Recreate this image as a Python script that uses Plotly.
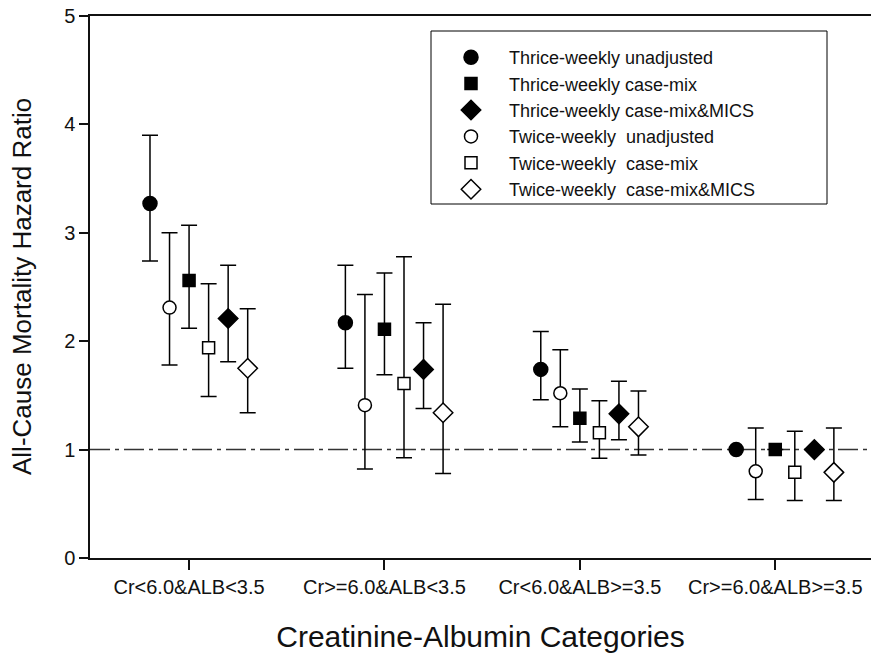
import plotly.graph_objects as go

# ---------------- data ----------------
categories = ["Cr<6.0&ALB<3.5", "Cr>=6.0&ALB<3.5", "Cr<6.0&ALB>=3.5", "Cr>=6.0&ALB>=3.5"]

series_names = [
    "Thrice-weekly unadjusted",
    "Thrice-weekly case-mix",
    "Thrice-weekly case-mix&MICS",
    "Twice-weekly  unadjusted",
    "Twice-weekly  case-mix",
    "Twice-weekly  case-mix&MICS",
]

thrice_unadj_hr = [3.27, 2.17, 1.74, 1.00]
thrice_unadj_hi = [3.90, 2.70, 2.09, None]
thrice_unadj_lo = [2.74, 1.75, 1.46, None]

thrice_cm_hr = [2.56, 2.11, 1.29, 1.00]
thrice_cm_hi = [3.07, 2.63, 1.56, None]
thrice_cm_lo = [2.12, 1.69, 1.07, None]

thrice_mics_hr = [2.21, 1.74, 1.33, 1.00]
thrice_mics_hi = [2.70, 2.17, 1.63, None]
thrice_mics_lo = [1.81, 1.38, 1.09, None]

twice_unadj_hr = [2.31, 1.41, 1.52, 0.80]
twice_unadj_hi = [3.00, 2.43, 1.92, 1.20]
twice_unadj_lo = [1.78, 0.82, 1.21, 0.54]

twice_cm_hr = [1.94, 1.61, 1.155, 0.79]
twice_cm_hi = [2.53, 2.78, 1.45, 1.17]
twice_cm_lo = [1.49, 0.925, 0.92, 0.53]

twice_mics_hr = [1.75, 1.34, 1.21, 0.79]
twice_mics_hi = [2.30, 2.34, 1.54, 1.20]
twice_mics_lo = [1.34, 0.78, 0.95, 0.53]

y_ticks = [0, 1, 2, 3, 4, 5]
reference_hr = 1.0

# ---------------- styling ----------------
series = [
    (thrice_unadj_hr, thrice_unadj_hi, thrice_unadj_lo),
    (thrice_cm_hr, thrice_cm_hi, thrice_cm_lo),
    (thrice_mics_hr, thrice_mics_hi, thrice_mics_lo),
    (twice_unadj_hr, twice_unadj_hi, twice_unadj_lo),
    (twice_cm_hr, twice_cm_hi, twice_cm_lo),
    (twice_mics_hr, twice_mics_hi, twice_mics_lo),
]
offsets = [-0.2, 0.0, 0.2, -0.1, 0.1, 0.3]
symbols = ["circle", "square", "diamond", "circle", "square", "diamond"]
fills = ["black", "black", "black", "white", "white", "white"]
sizes = [14, 12, 15, 13, 12, 15]

FONT = "Liberation Sans, Arial, sans-serif"
INK = "#111111"

fig = go.Figure()
for name, (hr, hi, lo), off, sym, fc, sz in zip(series_names, series, offsets, symbols, fills, sizes):
    xs = [i + 1 + off for i in range(len(hr))]
    plus = [(h - v) if h is not None else None for h, v in zip(hi, hr)]
    minus = [(v - l) if l is not None else None for l, v in zip(lo, hr)]
    fig.add_trace(go.Scatter(
        x=xs, y=hr, mode="markers", name=name,
        marker=dict(symbol=sym, size=sz, color=fc, line=dict(color="black", width=1.5)),
        error_y=dict(type="data", symmetric=False, array=plus, arrayminus=minus,
                     color="black", thickness=1.5, width=8),
    ))

fig.add_hline(y=reference_hr, line=dict(color="#333333", width=1.5, dash="20px,5px,4px,5px"),
              layer="below")

W, H = 871, 654
L, R, T, B = 90, 0, 16, 96
pw, ph = W - L - R, H - T - B

def px_to_paper_x(px):
    return (px - L) / pw

def px_to_paper_y(py):
    return (H - B - py) / ph

# legend frame
fig.add_shape(type="rect", xref="paper", yref="paper",
              x0=px_to_paper_x(431), x1=px_to_paper_x(827),
              y0=px_to_paper_y(204), y1=px_to_paper_y(31),
              line=dict(color="black", width=1), fillcolor="rgba(0,0,0,0)")

# y-axis title as rotated text
fig.add_annotation(text="All-Cause Mortality Hazard Ratio", xref="paper", yref="paper",
                   x=px_to_paper_x(22), y=px_to_paper_y(287), xanchor="center", yanchor="middle",
                   textangle=-90, showarrow=False,
                   font=dict(family=FONT, size=26, color=INK))

fig.update_layout(
    width=W, height=H,
    margin=dict(l=L, r=R, t=T, b=B, autoexpand=False),
    paper_bgcolor="white", plot_bgcolor="white",
    font=dict(family=FONT, color=INK),
    showlegend=True,
    legend=dict(
        x=px_to_paper_x(433), y=px_to_paper_y(39), xanchor="left", yanchor="top",
        bgcolor="rgba(0,0,0,0)", borderwidth=0,
        font=dict(family=FONT, size=18, color=INK),
        itemwidth=66, tracegroupgap=0,
    ),
    xaxis=dict(
        range=[0.493, 4.49], tickmode="array", tickvals=[1, 2, 3, 4], ticktext=categories,
        showgrid=False, zeroline=False, showline=True, linecolor=INK, linewidth=1.5,
        mirror=True, ticks="outside", ticklen=10, tickwidth=1.5, tickcolor=INK,
        tickfont=dict(family=FONT, size=20, color=INK),
        title=dict(text="Creatinine-Albumin Categories",
                   font=dict(family=FONT, size=30, color=INK), standoff=29),
    ),
    yaxis=dict(
        range=[0, 5], tickmode="array", tickvals=y_ticks,
        showgrid=False, zeroline=False, showline=True, linecolor=INK, linewidth=1.5,
        ticks="outside", ticklen=9, tickwidth=1.5, tickcolor=INK,
        tickfont=dict(family=FONT, size=20, color=INK),
    ),
)

fig.write_html("out.html")
